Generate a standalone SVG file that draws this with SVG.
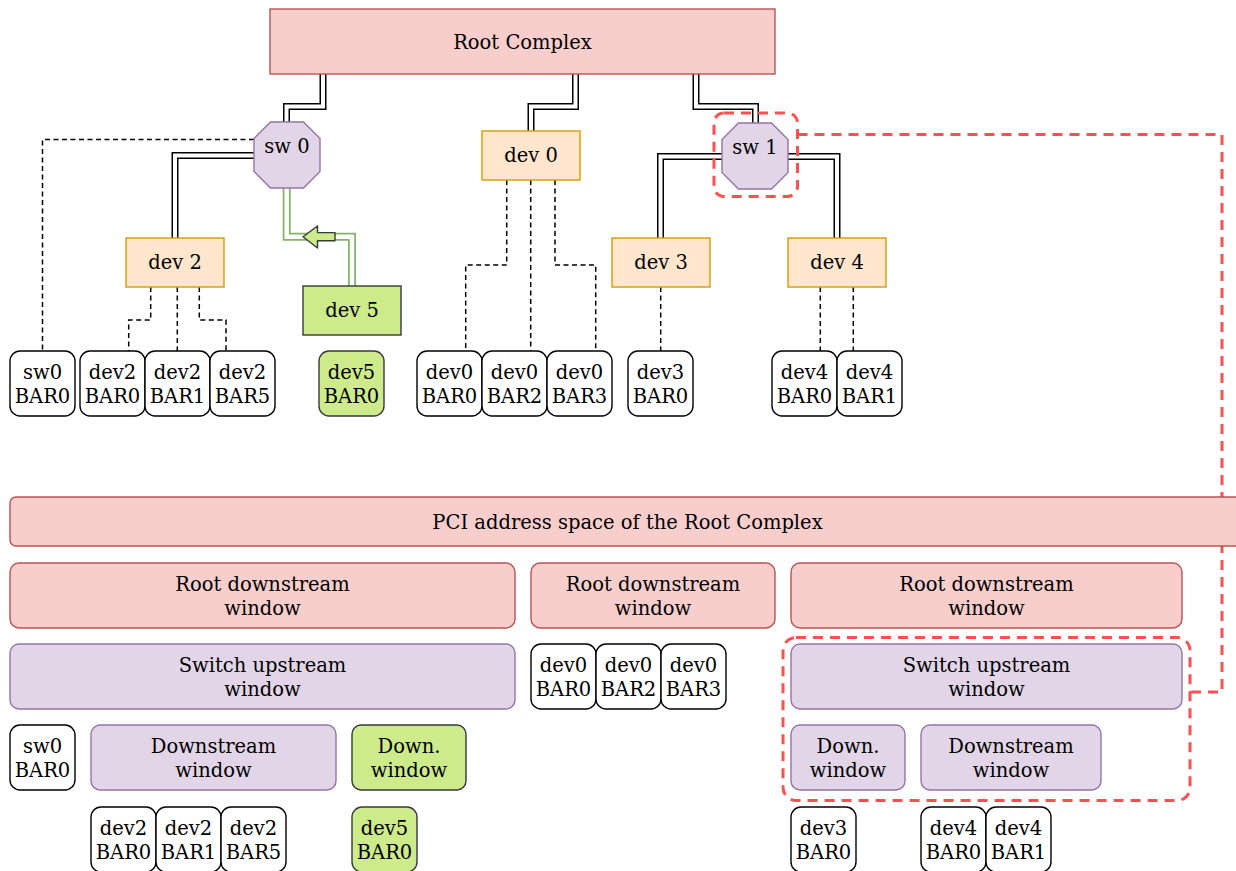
<svg xmlns="http://www.w3.org/2000/svg" width="1236" height="871" viewBox="0 0 1236 871">
  <style>
    text { font-family: "DejaVu Serif", "Liberation Serif", serif; font-size: 19.5px; text-anchor: middle; fill: #000; }
    .red { fill: #f8cecc; stroke: #b85450; stroke-width: 1.4; }
    .dev { fill: #ffe6cc; stroke: #d79b00; stroke-width: 1.4; }
    .sw { fill: #e1d5e7; stroke: #9673a6; stroke-width: 1.4; }
    .grn { fill: #cdeb8b; stroke: #36393d; stroke-width: 1.4; }
    .bar { fill: #ffffff; stroke: #000; stroke-width: 1.4; }
    .link-o { fill: none; stroke: #000; stroke-width: 7; }
    .link-i { fill: none; stroke: #fff; stroke-width: 4; }
    .glink-o { fill: none; stroke: #82b366; stroke-width: 8; }
    .glink-i { fill: none; stroke: #fff; stroke-width: 4.5; }
    .bl { fill: none; stroke: #000; stroke-width: 1.5; stroke-dasharray: 5 3.5; }
    .hl { fill: none; stroke: #ff4f4f; stroke-width: 3; stroke-dasharray: 10 7; }
  </style>

  <!-- connectors -->
  <g id="connectors">
    <!-- bus links (double lines) -->
    <path class="link-o" d="M323,74 V106.5 H286.5 V122"/>
    <path class="link-i" d="M323,74 V106.5 H286.5 V122"/>
    <path class="link-o" d="M575.5,74 V106.5 H531 V131"/>
    <path class="link-i" d="M575.5,74 V106.5 H531 V131"/>
    <path class="link-o" d="M696,74 V106.5 H755.5 V123"/>
    <path class="link-i" d="M696,74 V106.5 H755.5 V123"/>
    <path class="link-o" d="M254,155.5 H175 V238"/>
    <path class="link-i" d="M254,155.5 H175 V238"/>
    <path class="link-o" d="M722,156.5 H660.5 V238"/>
    <path class="link-i" d="M722,156.5 H660.5 V238"/>
    <path class="link-o" d="M788,156.5 H837 V238"/>
    <path class="link-i" d="M788,156.5 H837 V238"/>
    <!-- dev 5 uplink -->
    <path class="glink-o" d="M352,286 V236.7 H286.7 V188"/>
    <path class="glink-i" d="M352,286 V236.7 H286.7 V188"/>
    <polygon points="303,236.7 317.5,226 317.5,232.6 335,232.6 335,240.8 317.5,240.8 317.5,248" fill="#cdeb8b" stroke="#36393d" stroke-width="1.4" stroke-linejoin="round"/>

    <!-- BAR links (dashed) -->
    <path class="bl" d="M254,139.5 H42.5 V351"/>
    <path class="bl" d="M150.7,287 V320 H128.7 V351"/>
    <path class="bl" d="M177.3,287 V351"/>
    <path class="bl" d="M199.3,287 V320 H226 V351"/>
    <path class="bl" d="M506.7,180 V265 H465.7 V351"/>
    <path class="bl" d="M530.7,180 V351"/>
    <path class="bl" d="M555,180 V265 H595.7 V351"/>
    <path class="bl" d="M660.7,287 V351"/>
    <path class="bl" d="M820.3,287 V351"/>
    <path class="bl" d="M853.3,287 V351"/>

    <!-- sw 1 highlight and its address range -->
    <rect class="hl" x="714" y="113" width="83.5" height="83.5" rx="10"/>
    <path class="hl" d="M797.5,134.5 H1222 V692 H1190"/>
    <rect class="hl" x="783" y="637.5" width="407" height="163" rx="13"/>
  </g>

  <!-- topology -->
  <g id="root-complex">
    <rect class="red" x="270" y="9" width="505" height="65"/>
    <text x="522.5" y="48.5">Root Complex</text>
  </g>
  <g id="sw0">
    <polygon class="sw" points="270.5,122 303.5,122 320,138.5 320,171.5 303.5,188 270.5,188 254,171.5 254,138.5"/>
    <text x="287" y="153">sw 0</text>
  </g>
  <g id="sw1">
    <polygon class="sw" points="738.5,123 771.5,123 788,139.5 788,172.5 771.5,189 738.5,189 722,172.5 722,139.5"/>
    <text x="755" y="154">sw 1</text>
  </g>
  <g id="dev0">
    <rect class="dev" x="482" y="131" width="98" height="49"/>
    <text x="531" y="162">dev 0</text>
  </g>
  <g id="dev2">
    <rect class="dev" x="126" y="238" width="98" height="49"/>
    <text x="175" y="269">dev 2</text>
  </g>
  <g id="dev3">
    <rect class="dev" x="612" y="238" width="98" height="49"/>
    <text x="661" y="269">dev 3</text>
  </g>
  <g id="dev4">
    <rect class="dev" x="788" y="238" width="98" height="49"/>
    <text x="837" y="269">dev 4</text>
  </g>
  <g id="dev5">
    <rect class="grn" x="303" y="286" width="98" height="49"/>
    <text x="352" y="317">dev 5</text>
  </g>

  <!-- BARs under their devices -->
  <g id="bar-sw0-0"><rect class="bar" x="10" y="351" width="65" height="65" rx="10"/><text x="42.5" y="379">sw0</text><text x="42.5" y="403">BAR0</text></g>
  <g id="bar-dev2-0"><rect class="bar" x="80" y="351" width="65" height="65" rx="10"/><text x="112.5" y="379">dev2</text><text x="112.5" y="403">BAR0</text></g>
  <g id="bar-dev2-1"><rect class="bar" x="145" y="351" width="65" height="65" rx="10"/><text x="177.5" y="379">dev2</text><text x="177.5" y="403">BAR1</text></g>
  <g id="bar-dev2-5"><rect class="bar" x="210" y="351" width="65" height="65" rx="10"/><text x="242.5" y="379">dev2</text><text x="242.5" y="403">BAR5</text></g>
  <g id="bar-dev5-0"><rect class="grn" x="319" y="351" width="65" height="65" rx="10"/><text x="351.5" y="379">dev5</text><text x="351.5" y="403">BAR0</text></g>
  <g id="bar-dev0-0"><rect class="bar" x="417" y="351" width="65" height="65" rx="10"/><text x="449.5" y="379">dev0</text><text x="449.5" y="403">BAR0</text></g>
  <g id="bar-dev0-2"><rect class="bar" x="482" y="351" width="65" height="65" rx="10"/><text x="514.5" y="379">dev0</text><text x="514.5" y="403">BAR2</text></g>
  <g id="bar-dev0-3"><rect class="bar" x="547" y="351" width="65" height="65" rx="10"/><text x="579.5" y="379">dev0</text><text x="579.5" y="403">BAR3</text></g>
  <g id="bar-dev3-0"><rect class="bar" x="628" y="351" width="65" height="65" rx="10"/><text x="660.5" y="379">dev3</text><text x="660.5" y="403">BAR0</text></g>
  <g id="bar-dev4-0"><rect class="bar" x="772" y="351" width="65" height="65" rx="10"/><text x="804.5" y="379">dev4</text><text x="804.5" y="403">BAR0</text></g>
  <g id="bar-dev4-1"><rect class="bar" x="837" y="351" width="65" height="65" rx="10"/><text x="869.5" y="379">dev4</text><text x="869.5" y="403">BAR1</text></g>

  <!-- address space map -->
  <g id="pci-space">
    <rect class="red" x="10" y="497" width="1236" height="49" rx="6"/>
    <text x="627.5" y="528.5">PCI address space of the Root Complex</text>
  </g>
  <g id="rdw-1"><rect class="red" x="10" y="563" width="505" height="65" rx="9"/><text x="262.5" y="591">Root downstream</text><text x="262.5" y="615">window</text></g>
  <g id="rdw-2"><rect class="red" x="531" y="563" width="244" height="65" rx="9"/><text x="653" y="591">Root downstream</text><text x="653" y="615">window</text></g>
  <g id="rdw-3"><rect class="red" x="791" y="563" width="391" height="65" rx="9"/><text x="986.5" y="591">Root downstream</text><text x="986.5" y="615">window</text></g>

  <g id="suw-0"><rect class="sw" x="10" y="644" width="505" height="65" rx="9"/><text x="262.5" y="672">Switch upstream</text><text x="262.5" y="696">window</text></g>
  <g id="map-dev0-0"><rect class="bar" x="531" y="644" width="65" height="65" rx="10"/><text x="563.5" y="672">dev0</text><text x="563.5" y="696">BAR0</text></g>
  <g id="map-dev0-2"><rect class="bar" x="596" y="644" width="65" height="65" rx="10"/><text x="628.5" y="672">dev0</text><text x="628.5" y="696">BAR2</text></g>
  <g id="map-dev0-3"><rect class="bar" x="661" y="644" width="65" height="65" rx="10"/><text x="693.5" y="672">dev0</text><text x="693.5" y="696">BAR3</text></g>
  <g id="suw-1"><rect class="sw" x="791" y="644" width="391" height="65" rx="9"/><text x="986.5" y="672">Switch upstream</text><text x="986.5" y="696">window</text></g>

  <g id="map-sw0-0"><rect class="bar" x="10" y="725" width="65" height="65" rx="10"/><text x="42.5" y="753">sw0</text><text x="42.5" y="777">BAR0</text></g>
  <g id="sdw-0a"><rect class="sw" x="91" y="725" width="245" height="65" rx="9"/><text x="213.5" y="753">Downstream</text><text x="213.5" y="777">window</text></g>
  <g id="sdw-0b"><rect class="grn" x="352" y="725" width="114" height="65" rx="9"/><text x="409" y="753">Down.</text><text x="409" y="777">window</text></g>
  <g id="sdw-1a"><rect class="sw" x="791" y="725" width="114" height="65" rx="9"/><text x="848" y="753">Down.</text><text x="848" y="777">window</text></g>
  <g id="sdw-1b"><rect class="sw" x="921" y="725" width="180" height="65" rx="9"/><text x="1011" y="753">Downstream</text><text x="1011" y="777">window</text></g>

  <g id="map-dev2-0"><rect class="bar" x="91" y="807" width="65" height="65" rx="10"/><text x="123.5" y="835">dev2</text><text x="123.5" y="859">BAR0</text></g>
  <g id="map-dev2-1"><rect class="bar" x="156" y="807" width="65" height="65" rx="10"/><text x="188.5" y="835">dev2</text><text x="188.5" y="859">BAR1</text></g>
  <g id="map-dev2-5"><rect class="bar" x="221" y="807" width="65" height="65" rx="10"/><text x="253.5" y="835">dev2</text><text x="253.5" y="859">BAR5</text></g>
  <g id="map-dev5-0"><rect class="grn" x="352" y="807" width="65" height="65" rx="10"/><text x="384.5" y="835">dev5</text><text x="384.5" y="859">BAR0</text></g>
  <g id="map-dev3-0"><rect class="bar" x="791" y="807" width="65" height="65" rx="10"/><text x="823.5" y="835">dev3</text><text x="823.5" y="859">BAR0</text></g>
  <g id="map-dev4-0"><rect class="bar" x="921" y="807" width="65" height="65" rx="10"/><text x="953.5" y="835">dev4</text><text x="953.5" y="859">BAR0</text></g>
  <g id="map-dev4-1"><rect class="bar" x="986" y="807" width="65" height="65" rx="10"/><text x="1018.5" y="835">dev4</text><text x="1018.5" y="859">BAR1</text></g>
</svg>
